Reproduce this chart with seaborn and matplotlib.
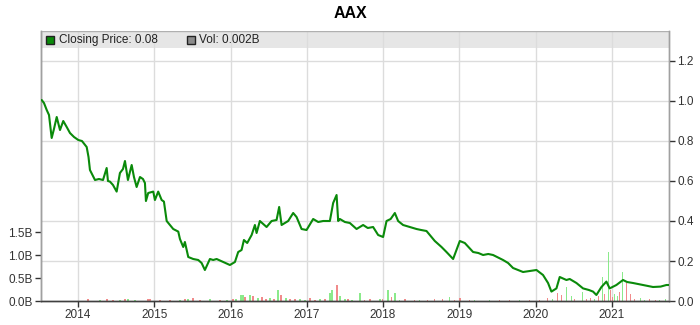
import matplotlib
matplotlib.use("Agg")
import matplotlib.pyplot as plt
from matplotlib.patches import Rectangle
import numpy as np
import pandas as pd
import seaborn as sns

# ---------------- data (decimal years) ----------------
price_years = [2013.524, 2013.554, 2013.590, 2013.620, 2013.655, 2013.685, 2013.721, 2013.764,
               2013.807, 2013.852, 2013.895, 2013.948, 2014.004, 2014.052, 2014.114, 2014.138,
               2014.157, 2014.223, 2014.275, 2014.328, 2014.376, 2014.393, 2014.419, 2014.459,
               2014.507, 2014.550, 2014.590, 2014.616, 2014.655, 2014.704, 2014.734, 2014.769,
               2014.813, 2014.852, 2014.878, 2014.891, 2014.921, 2014.987, 2015.009, 2015.052,
               2015.097, 2015.127, 2015.163, 2015.206, 2015.249, 2015.315, 2015.337, 2015.380,
               2015.402, 2015.446, 2015.511, 2015.577, 2015.621, 2015.664, 2015.730, 2015.773,
               2015.818, 2015.904, 2015.992, 2016.058, 2016.101, 2016.145, 2016.176, 2016.219,
               2016.277, 2016.320, 2016.342, 2016.385, 2016.473, 2016.539, 2016.604, 2016.638,
               2016.670, 2016.756, 2016.822, 2016.866, 2016.932, 2016.997, 2017.084, 2017.150,
               2017.215, 2017.303, 2017.346, 2017.391, 2017.412, 2017.434, 2017.500, 2017.565,
               2017.653, 2017.739, 2017.800, 2017.870, 2017.936, 2018.001, 2018.046, 2018.100,
               2018.155, 2018.198, 2018.263, 2018.351, 2018.439, 2018.500, 2018.570, 2018.679,
               2018.767, 2018.832, 2018.919, 2019.007, 2019.072, 2019.181, 2019.250, 2019.312,
               2019.380, 2019.443, 2019.574, 2019.640, 2019.705, 2019.836, 2019.920, 2020.012,
               2020.098, 2020.164, 2020.208, 2020.274, 2020.317, 2020.405, 2020.448, 2020.536,
               2020.623, 2020.700, 2020.754, 2020.798, 2020.864, 2020.929, 2020.972, 2021.060,
               2021.147, 2021.200, 2021.278, 2021.409, 2021.480, 2021.540, 2021.640, 2021.716,
               2021.746]
close_price = [1.005, 0.99, 0.955, 0.93, 0.815, 0.86, 0.92, 0.855,
               0.90, 0.87, 0.84, 0.82, 0.805, 0.80, 0.77, 0.72,
               0.655, 0.605, 0.61, 0.605, 0.665, 0.60, 0.597, 0.58,
               0.547, 0.64, 0.66, 0.70, 0.605, 0.68, 0.62, 0.57,
               0.62, 0.61, 0.59, 0.50, 0.54, 0.547, 0.505, 0.547,
               0.505, 0.497, 0.40, 0.38, 0.36, 0.347, 0.31, 0.27,
               0.295, 0.22, 0.21, 0.205, 0.19, 0.155, 0.21, 0.205,
               0.21, 0.195, 0.18, 0.195, 0.245, 0.255, 0.305, 0.29,
               0.33, 0.38, 0.34, 0.40, 0.37, 0.40, 0.405, 0.47,
               0.38, 0.40, 0.44, 0.42, 0.36, 0.355, 0.41, 0.395,
               0.40, 0.40, 0.49, 0.53, 0.40, 0.41, 0.395, 0.39,
               0.36, 0.38, 0.365, 0.37, 0.33, 0.32, 0.40, 0.41,
               0.44, 0.40, 0.38, 0.37, 0.36, 0.355, 0.35, 0.30,
               0.27, 0.245, 0.21, 0.30, 0.29, 0.245, 0.24, 0.23,
               0.235, 0.23, 0.205, 0.19, 0.165, 0.145, 0.15, 0.155,
               0.13, 0.09, 0.047, 0.063, 0.12, 0.105, 0.11, 0.09,
               0.063, 0.055, 0.047, 0.03, 0.07, 0.097, 0.063, 0.08,
               0.105, 0.095, 0.09, 0.08, 0.075, 0.07, 0.072, 0.08,
               0.08]

vol_years = [2014.131, 2014.380, 2014.550, 2014.616, 2014.655, 2014.917, 2014.944, 2015.206,
             2015.402, 2015.442, 2015.507, 2015.730, 2016.071, 2016.136, 2016.163, 2016.189,
             2016.254, 2016.294, 2016.412, 2016.516, 2016.621, 2016.660, 2016.779, 2016.910,
             2017.041, 2017.172, 2017.303, 2017.329, 2017.395, 2017.434, 2017.539, 2017.696,
             2017.827, 2017.958, 2018.063, 2018.115, 2018.155, 2018.286, 2018.482, 2018.679,
             2018.875, 2019.007, 2019.138, 2019.400, 2019.662, 2019.924, 2020.160, 2020.291,
             2020.343, 2020.403, 2020.469, 2020.613, 2020.718, 2020.822, 2020.875, 2020.907,
             2020.953, 2020.980, 2021.038, 2021.104, 2021.143, 2021.195, 2021.246, 2021.376,
             2021.573, 2021.704,
             2014.288, 2014.459, 2014.747, 2015.075, 2015.337, 2015.599, 2015.861, 2015.953,
             2016.031, 2016.359, 2016.464, 2016.569, 2016.726, 2016.844, 2016.975, 2017.106,
             2017.237, 2017.499, 2017.591, 2017.761, 2017.997, 2018.220, 2018.416, 2018.587,
             2018.784, 2018.941, 2019.203, 2019.531, 2019.793, 2020.055, 2020.225, 2020.511,
             2020.665, 2020.770, 2021.012, 2021.077, 2021.300, 2021.428, 2021.494, 2021.625]
volume_b = [0.04, 0.04, 0.03, 0.04, 0.05, 0.05, 0.04, 0.02,
            0.05, 0.04, 0.07, 0.04, 0.05, 0.12, 0.13, 0.09,
            0.14, 0.10, 0.08, 0.06, 0.24, 0.12, 0.05, 0.04,
            0.06, 0.04, 0.17, 0.24, 0.35, 0.10, 0.04, 0.17,
            0.04, 0.05, 0.24, 0.08, 0.18, 0.04, 0.03, 0.04,
            0.08, 0.06, 0.03, 0.03, 0.02, 0.03, 0.06, 0.17,
            0.12, 0.31, 0.10, 0.20, 0.06, 0.10, 0.53, 0.15,
            1.07, 0.24, 0.15, 0.20, 0.64, 0.39, 0.15, 0.06,
            0.03, 0.04,
            0.02, 0.03, 0.02, 0.02, 0.03, 0.02, 0.03, 0.03,
            0.04, 0.06, 0.05, 0.05, 0.06, 0.04, 0.03, 0.03,
            0.04, 0.05, 0.03, 0.03, 0.04, 0.03, 0.03, 0.02,
            0.04, 0.03, 0.02, 0.02, 0.02, 0.03, 0.04, 0.05,
            0.05, 0.04, 0.08, 0.10, 0.05, 0.03, 0.04, 0.02]
vol_dir = ["down", "down", "up", "down", "up", "down", "down", "down",
           "down", "up", "down", "up", "up", "up", "up", "down",
           "up", "down", "down", "up", "up", "down", "down", "up",
           "down", "up", "up", "up", "down", "up", "down", "up",
           "down", "up", "up", "down", "up", "down", "up", "down",
           "up", "down", "down", "up", "down", "down", "down", "down",
           "down", "up", "up", "up", "down", "down", "up", "down",
           "up", "down", "up", "down", "up", "down", "down", "up",
           "down", "up",
           "up", "down", "up", "down", "up", "down", "down", "up",
           "down", "up", "down", "down", "up", "down", "up", "down",
           "down", "up", "up", "down", "down", "up", "down", "down",
           "down", "down", "up", "down", "up", "down", "up", "down",
           "down", "up", "down", "up", "down", "up", "down", "up"]

year_ticks = [2014, 2015, 2016, 2017, 2018, 2019, 2020, 2021]
price_ticks = [0.0, 0.2, 0.4, 0.6, 0.8, 1.0, 1.2]
vol_ticks = [0.0, 0.5, 1.0, 1.5]
title = "AAX"
legend_price = "Closing Price: 0.08"
legend_vol = "Vol: 0.002B"

# ---------------- style ----------------
sns.set_style("white")
plt.rcParams["font.family"] = ["Liberation Sans", "DejaVu Sans"]

fig = plt.figure(figsize=(7, 3.25), dpi=100)
L, R, B, T = 41 / 700, 669 / 700, 1 - 301 / 325, 1 - 31 / 325
ax_vol = fig.add_axes([L, B, R - L, T - B])
ax = ax_vol.twinx()

xmin, xmax = 2013.515, 2021.75

# volume bars
vol_df = pd.DataFrame({"year": vol_years, "vol": volume_b, "dir": vol_dir})
colors = {"up": "#7fe87f", "down": "#f07f7f"}
for d, g in vol_df.groupby("dir"):
    ax_vol.bar(g["year"], g["vol"], width=0.018, color=colors[d], alpha=0.9,
               linewidth=0, zorder=2)
ax_vol.set_ylim(0, 5.87)
ax_vol.set_yticks(vol_ticks)
ax_vol.set_yticklabels([f"{v:.1f}B" for v in vol_ticks])
ax_vol.set_xlim(xmin, xmax)

# legend band & grid (on volume axis, below everything)
ax_vol.add_patch(Rectangle((0, 0.937), 1, 0.063, transform=ax_vol.transAxes,
                           facecolor="#e6e6e6", edgecolor="none", zorder=0))
for yt in price_ticks[1:]:
    ax_vol.axhline(yt / 1.35 * 5.87, color="#dcdcdc", lw=1.0, zorder=1)
for xt in year_ticks:
    ax_vol.axvline(xt, color="#dcdcdc", lw=1.0, zorder=1)
ax_vol.axhline(5.87, color="#b0b0b0", lw=1.0, zorder=3)

# price line
price_df = pd.DataFrame({"year": price_years, "close": close_price})
sns.lineplot(data=price_df, x="year", y="close", ax=ax, color="#0a8a0a", lw=1.5,
             zorder=5)
ax.set_ylim(0, 1.35)
ax.set_xlim(xmin, xmax)
ax.set_yticks(price_ticks)
ax.set_yticklabels([f"{v:.1f}" for v in price_ticks])
ax.set_xlabel("")
ax.set_ylabel("")
ax_vol.set_xlabel("")
ax_vol.set_ylabel("")
ax_vol.set_xticks(year_ticks)
ax_vol.set_xticklabels([str(y) for y in year_ticks])

for a in (ax, ax_vol):
    for s in a.spines.values():
        s.set_color("#a0a0a0")
        s.set_linewidth(1.0)
    a.spines["bottom"].set_color("#404040")
    a.spines["top"].set_visible(False)
    a.tick_params(axis="both", labelsize=8.5, colors="#333333", length=4, width=1,
                  direction="out", pad=2)
ax_vol.tick_params(axis="y", left=True, right=False)
ax_vol.tick_params(axis="x", bottom=True)
ax.tick_params(axis="y", right=True, left=False)
ax_vol.spines["left"].set_color("#808080")

# legend (drawn as text in the band)
ly = 0.967
ax_vol.plot([0.0143], [ly], marker="s", ms=6, mfc="#0a8a0a", mec="#222222", mew=1,
            transform=ax_vol.transAxes, clip_on=False, zorder=6)
ax_vol.text(0.0287, ly, legend_price, transform=ax_vol.transAxes, fontsize=8.5,
            color="#222222", va="center", ha="left", zorder=6)
ax_vol.plot([0.2389], [ly], marker="s", ms=6, mfc="#8c8c8c", mec="#222222", mew=1,
            transform=ax_vol.transAxes, clip_on=False, zorder=6)
ax_vol.text(0.2516, ly, legend_vol, transform=ax_vol.transAxes, fontsize=8.5,
            color="#222222", va="center", ha="left", zorder=6)

fig.text(0.5, 1 - 13 / 325, title, ha="center", va="center", fontsize=11.5,
         fontweight="bold", color="#000000")

fig.savefig("out.png", dpi=100)
